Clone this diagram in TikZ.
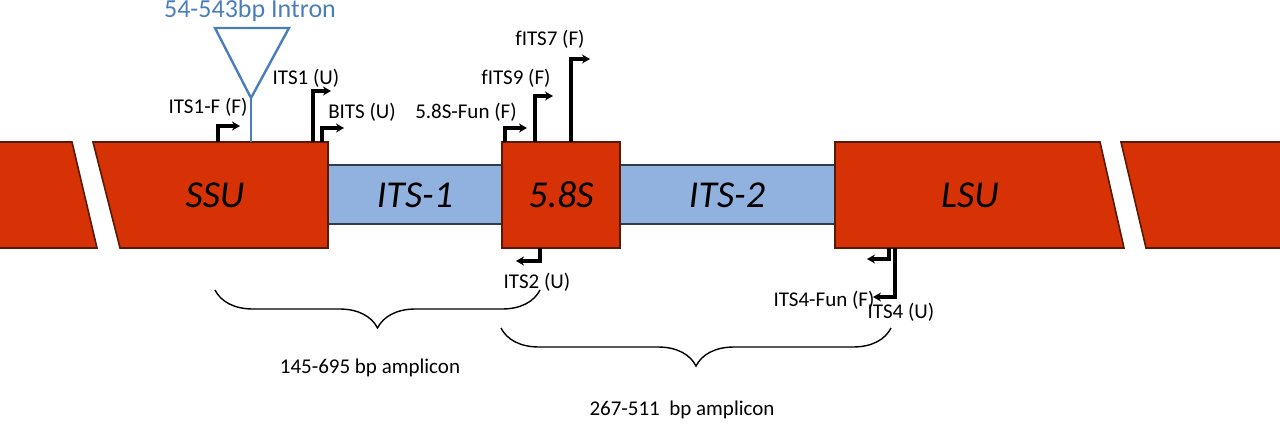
\documentclass[tikz,border=0pt]{standalone}
\usepackage{fontspec}
\setmainfont{Carlito}
\usetikzlibrary{decorations.pathreplacing,arrows.meta}
\definecolor{rd}{RGB}{214,50,5}
\definecolor{rdb}{RGB}{90,25,5}
\definecolor{bl}{RGB}{145,178,222}
\definecolor{blb}{RGB}{45,60,80}
\definecolor{intr}{RGB}{74,126,187}
\begin{document}
\begin{tikzpicture}[x=1pt,y=-1pt,
 red/.style={fill=rd,draw=rdb,line width=1.6pt},
 blue/.style={fill=bl,draw=blb,line width=1.4pt},
 primer/.style={line width=3.4pt,-{Stealth[length=8pt,width=9pt]}},
 lab/.style={font=\fontsize{21}{21}\selectfont,inner sep=0pt},
 big/.style={font=\fontsize{38}{38}\selectfont\itshape,inner sep=0pt},
 brc/.style={decorate,decoration={brace,mirror,amplitude=38pt},line width=1.4pt}]
\useasboundingbox (0,0) rectangle (1280,426);
\path[blue] (328,165) rectangle (502,224);
\path[blue] (620,165) rectangle (835,224);
\path[red] (-2,142) -- (72,142) -- (97,248) -- (-2,248) -- cycle;
\path[red] (93,142) -- (328,142) -- (328,248) -- (120,248) -- cycle;
\path[red] (502,142) rectangle (620,248);
\path[red] (835,142) -- (1100,142) -- (1124,248) -- (835,248) -- cycle;
\path[red] (1121,142) -- (1282,142) -- (1282,248) -- (1146,248) -- cycle;
\node[big] (ssu) at (215,195) {SSU};
\node[big] (its1) at (415,195) {ITS-1};
\node[big] (s58) at (561,195) {5.8S};
\node[big] (its2) at (727,195) {ITS-2};
\node[big] (lsu) at (970,195) {LSU};
% intron
\coordinate (ia) at (215,28); \coordinate (ib) at (289,28); \coordinate (ic) at (251,98); \coordinate (id) at (251,142);
\draw[intr,line width=2.4pt,line join=miter] (ia) -- (ib) -- (ic) -- cycle;
\draw[intr,line width=2.4pt] (ic) -- (id);
\node[lab,text=intr,font=\fontsize{26}{26}\selectfont] (intron) at (250,11) {54-543bp Intron};
% primers
\draw[primer] (218,142) |- (240,126);
\node[lab] (p1) at (208,107) {ITS1-F (F)};
\draw[primer] (313,142) |- (331,91);
\node[lab] (p2) at (306,78) {ITS1 (U)};
\draw[primer] (322,142) |- (344,128);
\node[lab] (p3) at (362,112) {BITS (U)};
\draw[primer] (505,142) |- (527,128);
\node[lab] (p4) at (466,112) {5.8S-Fun (F)};
\draw[primer] (535,142) |- (553,96);
\node[lab] (p5) at (516,78) {fITS9 (F)};
\draw[primer] (571,142) |- (590,59);
\node[lab] (p6) at (550,39) {fITS7 (F)};
\draw[primer] (540,248) |- (516,261);
\node[lab] (p7) at (537,282) {ITS2 (U)};
\draw[primer] (889,248) |- (867,259);
\node[lab] (p8) at (824,300) {ITS4-Fun (F)};
\draw[primer] (895,248) |- (873,297);
\node[lab] (p9) at (901,312) {ITS4 (U)};
% braces
\coordinate (b1s) at (215,290); \coordinate (b1e) at (540,290);
\draw[brc] (b1s) -- (b1e);
\node[lab] (a1) at (370,368) {145-695 bp amplicon};
\coordinate (b2s) at (501,328); \coordinate (b2e) at (891,328);
\draw[brc] (b2s) -- (b2e);
\node[lab] (a2) at (682,410) {267-511\ \ bp amplicon};
\end{tikzpicture}
\end{document}
